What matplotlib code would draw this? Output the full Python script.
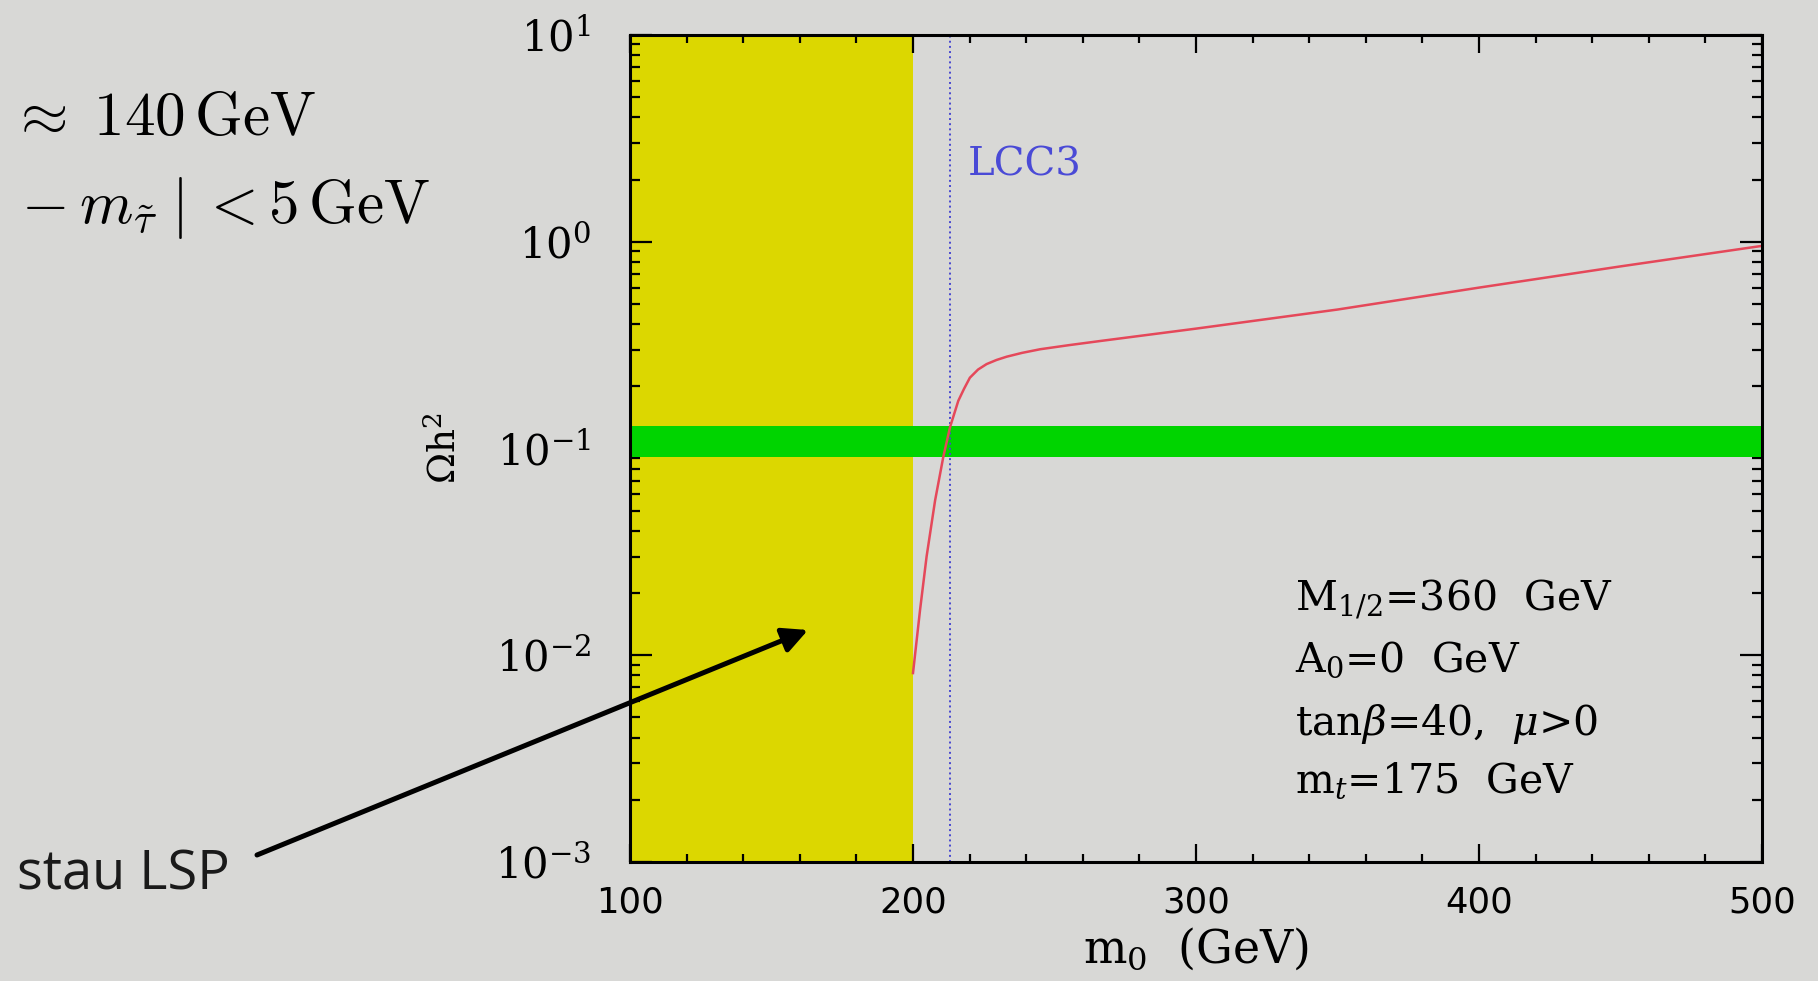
import matplotlib
matplotlib.use("Agg")
import matplotlib.pyplot as plt
from matplotlib.ticker import MultipleLocator, LogLocator, NullFormatter, FixedLocator, FuncFormatter
import numpy as np

# ---- data ----
m0 = [200, 202.5, 204.8, 207.8, 210.7, 213.1, 216.0, 218.0, 220.1, 223.0, 226.0,
      229.5, 233.1, 238.5, 244.9, 255.0, 266.1, 300, 350, 400, 450, 500]
omega_h2 = [0.0082, 0.0166, 0.030, 0.056, 0.091, 0.127, 0.170, 0.194, 0.220, 0.241, 0.256,
            0.268, 0.278, 0.290, 0.302, 0.316, 0.331, 0.38, 0.47, 0.60, 0.76, 0.955]
stau_lsp_region = (100, 200)
wmap_band = (0.091, 0.129)
lcc3_m0 = 213
x_ticks = [100, 200, 300, 400, 500]
param_lines = [r"M$_{1/2}$=360  GeV", r"A$_0$=0  GeV",
               r"tan$\beta$=40,  $\mu$>0", r"m$_t$=175  GeV"]

W, H = 1818, 981
BG = "#d8d8d6"
plt.rcParams["font.family"] = ["DejaVu Serif"]
plt.rcParams["mathtext.fontset"] = "dejavuserif"

fig = plt.figure(figsize=(W / 100, H / 100), dpi=100, facecolor=BG)
ax = fig.add_axes([630 / W, 1 - 862 / H, (1762 - 630) / W, (862 - 35) / H])
ax.set_facecolor(BG)

ax.set_xlim(100, 500)
ax.set_yscale("log")
ax.set_ylim(1e-3, 1e1)

ax.axvspan(*stau_lsp_region, color="#dcd700", lw=0, zorder=1)
ax.axhspan(*wmap_band, color="#00d400", lw=0, zorder=2)
ax.axvline(lcc3_m0, color="#4848d0", ls=":", lw=1.4, zorder=3)
ax.plot(m0, omega_h2, color="#e5485a", lw=1.8, zorder=4)

ax.text(219.5, 10 ** (1 - (175 - 35) / 206.75), "LCC3", color="#4a4ad6",
        fontsize=29, va="baseline", ha="left")

# ticks
ax.xaxis.set_major_locator(FixedLocator(x_ticks))
ax.xaxis.set_minor_locator(MultipleLocator(20))
ax.yaxis.set_major_locator(LogLocator(base=10, numticks=10))
ax.yaxis.set_minor_locator(LogLocator(base=10, subs=range(2, 10), numticks=50))
ax.yaxis.set_minor_formatter(NullFormatter())
ax.yaxis.set_major_formatter(FuncFormatter(
    lambda v, p: r"$\mathdefault{10^{%d}}$" % int(round(np.log10(v)))))
ax.tick_params(which="both", direction="in", top=True, right=True, width=1.6, color="black")
ax.tick_params(axis="x", which="major", length=13, pad=17, labelsize=25.5)
ax.tick_params(axis="x", which="minor", length=6)
ax.tick_params(axis="y", which="major", length=16, pad=28, labelsize=30)
ax.tick_params(axis="y", which="minor", length=7)
for lab in ax.get_xticklabels():
    lab.set_fontfamily("DejaVu Sans")
for s in ax.spines.values():
    s.set_linewidth(2.2)
    s.set_zorder(6)

ax.set_xlabel(r"m$_0$  (GeV)", fontsize=33)
ax.xaxis.set_label_coords(0.5, -0.078)
ax.set_ylabel(r"$\Omega$h$^2$", fontsize=27)
ax.yaxis.set_label_coords(-0.1466, 0.5)

# parameter box
baselines = [610, 671.7, 735, 793]
for txt, yb in zip(param_lines, baselines):
    fig.text(1295 / W, 1 - yb / H, txt, fontsize=29.5, va="baseline", ha="left")

# top-left text (visible part of the slide's formulas)
fig.text(316 / W, 1 - 135 / H, r"${}\approx\; 140\,\mathrm{GeV}$",
         fontsize=44, ha="right", va="baseline", math_fontfamily="cm")
fig.text(430 / W, 1 - 223 / H, r"${}- m_{\tilde{\tau}}\;|\:< 5\,\mathrm{GeV}$",
         fontsize=44, ha="right", va="baseline", math_fontfamily="cm")

# arrow and label
tip_x = 100 + (808 - 630) / 2.83
tip_y = 10 ** (1 - (630 - 35) / 206.75)
ax.annotate("", xy=(tip_x, tip_y), xycoords="data",
            xytext=(257 / W, 1 - 855 / H), textcoords="figure fraction",
            arrowprops=dict(arrowstyle="-|>", lw=3.6, color="black",
                            mutation_scale=38, shrinkA=0, shrinkB=0),
            annotation_clip=False, zorder=7)
fig.text(17 / W, 1 - 890 / H, "stau LSP", fontsize=39, family="Open Sans",
         color="#1a1a1a", va="baseline", ha="left")

fig.savefig("out.png", dpi=100, facecolor=BG)
